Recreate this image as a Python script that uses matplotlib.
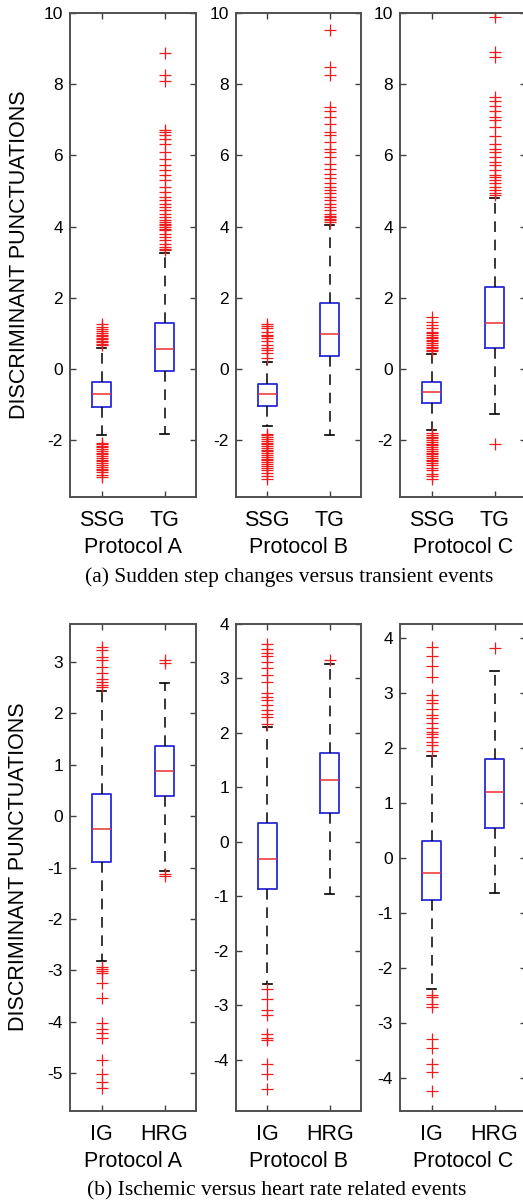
import matplotlib.pyplot as plt

plt.rcParams['font.family'] = ['Liberation Sans', 'DejaVu Sans']
plt.rcParams['axes.unicode_minus'] = False

protocols = ['Protocol A', 'Protocol B', 'Protocol C']

# (a) sudden step changes (SSG) versus transient events (TG)
groups_top = ['SSG', 'TG']
ssg_q1 = [-1.08, -1.03, -0.97]
ssg_med = [-0.70, -0.71, -0.66]
ssg_q3 = [-0.38, -0.43, -0.38]
ssg_lo = [-1.85, -1.60, -1.72]
ssg_hi = [0.60, 0.18, 0.42]
ssg_out = [
    [1.25, 1.18, 1.12, 1.06, 1.00, 0.95, 0.91, 0.87, 0.83, 0.79, 0.75, 0.70, 0.66,
     -2.08, -2.12, -2.16, -2.20, -2.25, -2.30, -2.35, -2.40, -2.45, -2.50, -2.55,
     -2.60, -2.65, -2.70, -2.75, -2.80, -2.85, -2.90, -2.97, -3.05],
    [1.25, 1.20, 1.14, 1.05, 0.96, 0.91, 0.86, 0.77, 0.67, 0.58, 0.53, 0.44, 0.30,
     -1.82, -1.87, -1.92, -1.97, -2.02, -2.07, -2.12, -2.17, -2.22, -2.27, -2.32,
     -2.37, -2.42, -2.47, -2.52, -2.57, -2.62, -2.67, -2.72, -2.78, -2.85, -2.92,
     -3.00, -3.10],
    [1.47, 1.33, 1.23, 1.14, 1.05, 1.00, 0.95, 0.90, 0.86, 0.82, 0.77, 0.72, 0.67,
     0.62, 0.58, 0.53, 0.49,
     -1.80, -1.85, -1.90, -1.95, -2.00, -2.05, -2.10, -2.15, -2.20, -2.25, -2.30,
     -2.35, -2.40, -2.45, -2.50, -2.55, -2.60, -2.65, -2.70, -2.78, -2.85, -2.95,
     -3.02, -3.10],
]
tg_q1 = [-0.06, 0.35, 0.60]
tg_med = [0.56, 0.98, 1.28]
tg_q3 = [1.28, 1.84, 2.31]
tg_lo = [-1.83, -1.87, -1.28]
tg_hi = [3.25, 4.05, 4.80]
tg_out = [
    [8.87, 8.25, 8.10, 6.72, 6.65, 6.56, 6.47, 6.33, 6.09, 5.91, 5.72, 5.58, 5.44,
     5.30, 5.11, 4.97, 4.83, 4.74, 4.64, 4.55, 4.46, 4.36, 4.27, 4.18, 4.12, 4.08,
     4.03, 3.99, 3.94, 3.90, 3.80, 3.71, 3.62, 3.52, 3.43, 3.38, 3.34],
    [9.53, 8.48, 8.27, 7.36, 7.26, 7.07, 6.87, 6.65, 6.56, 6.37, 6.19, 6.09, 5.95,
     5.77, 5.63, 5.49, 5.35, 5.21, 5.11, 5.02, 4.93, 4.83, 4.74, 4.64, 4.55, 4.46,
     4.36, 4.30, 4.27, 4.22, 4.18, 4.14],
    [9.88, 8.90, 8.76, 7.64, 7.52, 7.40, 7.26, 7.09, 6.98, 6.79, 6.53, 6.33, 6.19,
     6.09, 5.95, 5.81, 5.72, 5.58, 5.44, 5.39, 5.30, 5.21, 5.11, 5.02, 4.93, 4.88,
     -2.10],
]

# (b) ischemic (IG) versus heart rate related events (HRG)
groups_bot = ['IG', 'HRG']
ig_q1 = [-0.90, -0.86, -0.77]
ig_med = [-0.26, -0.31, -0.27]
ig_q3 = [0.43, 0.34, 0.31]
ig_lo = [-2.81, -2.61, -2.38]
ig_hi = [2.43, 2.11, 1.86]
ig_out = [
    [3.29, 3.22, 3.09, 3.04, 2.90, 2.77, 2.67, 2.61, 2.54, 2.50,
     -2.94, -2.98, -3.01, -3.04, -3.25, -3.53, -4.03, -4.14, -4.22, -4.32, -4.74,
     -5.01, -5.16, -5.29],
    [3.63, 3.55, 3.47, 3.41, 3.30, 3.20, 3.06, 2.93, 2.73, 2.66, 2.61, 2.52, 2.43,
     2.34, 2.30, 2.17,
     -2.70, -2.88, -3.09, -3.17, -3.53, -3.60, -3.64, -4.08, -4.26, -4.54],
    [3.83, 3.66, 3.49, 3.28, 2.96, 2.87, 2.81, 2.70, 2.60, 2.54, 2.45, 2.36, 2.29,
     2.25, 2.20, 2.11, 2.05, 1.95,
     -2.49, -2.53, -2.65, -2.71, -3.29, -3.45, -3.74, -3.90, -4.23],
]
hrg_q1 = [0.38, 0.53, 0.55]
hrg_med = [0.87, 1.13, 1.19]
hrg_q3 = [1.36, 1.63, 1.80]
hrg_lo = [-1.06, -0.96, -0.63]
hrg_hi = [2.59, 3.26, 3.39]
hrg_out = [
    [3.04, 2.98, -1.12, -1.17],
    [3.33],
    [3.81],
]

yticks_top = [[-2, 0, 2, 4, 6, 8, 10]] * 3
ylim_top = [(-3.6, 10)] * 3
yticks_bot = [list(range(-5, 4)), list(range(-4, 5)), list(range(-4, 5))]
ylim_bot = [(-5.73, 3.73), (-4.94, 4.0), (-4.6, 4.25)]

W, H = 523, 1204
fig = plt.figure(figsize=(W / 100, H / 100), dpi=100)

lefts = [70, 236, 400]
widths = [126, 125, 126]


def stat(q1, med, q3, lo, hi, out):
    return dict(q1=q1, med=med, q3=q3, whislo=lo, whishi=hi, fliers=out)


def draw(ax, stats, names, proto, ylim, yticks):
    ax.bxp(stats, positions=[1, 2], widths=0.3, capwidths=0.15,
           boxprops=dict(color='#2a2ad8', lw=1.3),
           medianprops=dict(color='#e8302c', lw=1.1),
           whiskerprops=dict(color='black', lw=1.1, linestyle=(0, (7, 5))),
           capprops=dict(color='black', lw=1.2),
           flierprops=dict(marker='+', markeredgecolor='#ee1c1c',
                           markersize=9, markeredgewidth=0.9, linestyle='none'))
    ax.set_xlim(0.5, 2.5)
    ax.set_ylim(*ylim)
    ax.set_yticks(yticks)
    ax.set_xticks([1, 2])
    ax.set_xticklabels(names, fontsize=15.5)
    ax.set_xlabel(proto, fontsize=15.5, labelpad=4)
    ax.tick_params(axis='both', direction='in', top=True, right=True,
                   length=4.5, width=1.0, color='#404040')
    ax.tick_params(axis='y', labelsize=12.5, pad=5)
    ax.tick_params(axis='x', pad=9.5)
    for s in ax.spines.values():
        s.set_color('#505050')
        s.set_linewidth(1.4)


# top row
for i in range(3):
    ax = fig.add_axes([lefts[i] / W, 1 - 497 / H, widths[i] / W, 484 / H])
    stats = [stat(ssg_q1[i], ssg_med[i], ssg_q3[i], ssg_lo[i], ssg_hi[i], ssg_out[i]),
             stat(tg_q1[i], tg_med[i], tg_q3[i], tg_lo[i], tg_hi[i], tg_out[i])]
    draw(ax, stats, groups_top, protocols[i], ylim_top[i], yticks_top[i])

# bottom row
for i in range(3):
    ax = fig.add_axes([lefts[i] / W, 1 - 1111 / H, widths[i] / W, 487 / H])
    stats = [stat(ig_q1[i], ig_med[i], ig_q3[i], ig_lo[i], ig_hi[i], ig_out[i]),
             stat(hrg_q1[i], hrg_med[i], hrg_q3[i], hrg_lo[i], hrg_hi[i], hrg_out[i])]
    draw(ax, stats, groups_bot, protocols[i], ylim_bot[i], yticks_bot[i])

fig.text(20 / W, 1 - 255 / H, 'DISCRIMINANT PUNCTUATIONS', rotation=90,
         ha='center', va='center', fontsize=15.5)
fig.text(19 / W, 1 - 867 / H, 'DISCRIMINANT PUNCTUATIONS', rotation=90,
         ha='center', va='center', fontsize=15.5)

fig.text(289 / W, 1 - 577 / H, '(a) Sudden step changes versus transient events',
         ha='center', va='center', fontsize=15.5, family='Liberation Serif')
fig.text(277 / W, 1 - 1191 / H, '(b) Ischemic versus heart rate related events',
         ha='center', va='center', fontsize=15.5, family='Liberation Serif')

fig.savefig('out.png', dpi=100)
